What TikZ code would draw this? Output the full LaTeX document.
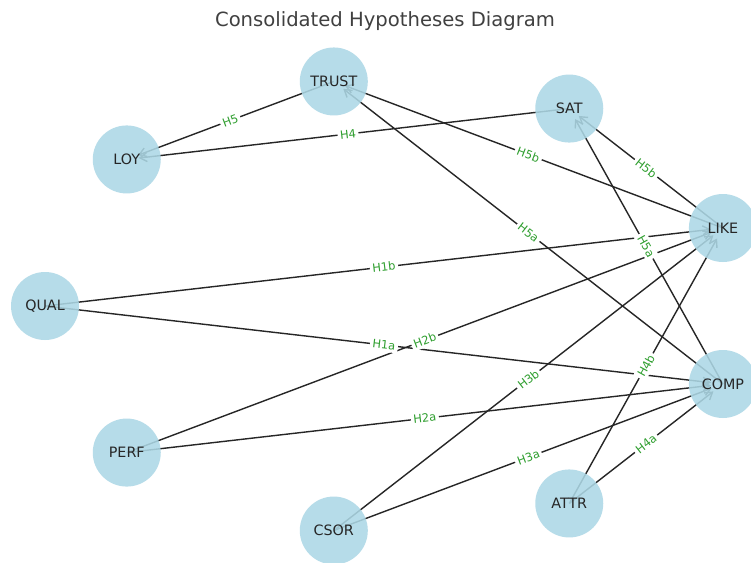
\documentclass[tikz,border=0pt]{standalone}
\usepackage{fontspec}
\setmainfont{DejaVu Sans}
\usetikzlibrary{arrows.meta}
\pgfdeclarelayer{bg}
\pgfdeclarelayer{edges}
\pgfdeclarelayer{labels}
\pgfsetlayers{bg,edges,labels,main}
\definecolor{nodeblue}{HTML}{ADD8E6}
\definecolor{labgreen}{HTML}{2E9E2E}
\definecolor{titlegray}{HTML}{404040}
\begin{document}
\begin{tikzpicture}[x=1pt,y=-1pt,
  vnode/.style={circle, fill=nodeblue, fill opacity=0.88, text opacity=1,
    minimum size=68pt, inner sep=0pt, text=black!85,
    font=\fontsize{14.3}{16}\selectfont},
  edge/.style={draw=black!85, line width=1.4pt,
    -{Straight Barb[length=7pt,width=9pt]}, shorten >=12pt},
  elab/.style={midway, sloped, fill=white, rounded corners=2pt, inner sep=2.5pt,
    text=labgreen, font=\fontsize{11.5}{13}\selectfont},
  titlestyle/.style={text=titlegray, font=\fontsize{19.6}{22}\selectfont}]
\begin{pgfonlayer}{bg}
\fill[white] (0,0) rectangle (751,562);
\end{pgfonlayer}
\useasboundingbox (0,0) rectangle (751,562);

\node[titlestyle] (title) at (385,21) {Consolidated Hypotheses Diagram};

\node[vnode] (LIKE)  at (722.9,228.0)  {LIKE};
\node[vnode] (SAT)   at (569.25,108.55) {SAT};
\node[vnode] (TRUST) at (333.8,81.46)  {TRUST};
\node[vnode] (LOY)   at (126.76,159.44) {LOY};
\node[vnode] (QUAL)  at (45,306)       {QUAL};
\node[vnode] (PERF)  at (126.76,452.56) {PERF};
\node[vnode] (CSOR)  at (333.8,530.54) {CSOR};
\node[vnode] (ATTR)  at (569.25,503.45) {ATTR};
\node[vnode] (COMP)  at (722.9,384.0)  {COMP};

\begin{pgfonlayer}{edges}
\draw[edge] (TRUST.center) -- (LOY.center);
\draw[edge] (SAT.center) -- (LOY.center);
\draw[edge] (LIKE.center) -- (TRUST.center);
\draw[edge] (COMP.center) -- (TRUST.center);
\draw[edge] (LIKE.center) -- (SAT.center);
\draw[edge] (COMP.center) -- (SAT.center);
\draw[edge] (QUAL.center) -- (LIKE.center);
\draw[edge] (QUAL.center) -- (COMP.center);
\draw[edge] (PERF.center) -- (LIKE.center);
\draw[edge] (PERF.center) -- (COMP.center);
\draw[edge] (CSOR.center) -- (LIKE.center);
\draw[edge] (CSOR.center) -- (COMP.center);
\draw[edge] (ATTR.center) -- (LIKE.center);
\draw[edge] (ATTR.center) -- (COMP.center);
\end{pgfonlayer}

\begin{pgfonlayer}{labels}
\path (TRUST.center) -- (LOY.center) node[elab] {H5};
\path (SAT.center) -- (LOY.center) node[elab] {H4};
\path (LIKE.center) -- (TRUST.center) node[elab] {H5b};
\path (COMP.center) -- (TRUST.center) node[elab] {H5a};
\path (LIKE.center) -- (SAT.center) node[elab] {H5b};
\path (COMP.center) -- (SAT.center) node[elab] {H5a};
\path (QUAL.center) -- (LIKE.center) node[elab] {H1b};
\path (QUAL.center) -- (COMP.center) node[elab] {H1a};
\path (PERF.center) -- (LIKE.center) node[elab] {H2b};
\path (PERF.center) -- (COMP.center) node[elab] {H2a};
\path (CSOR.center) -- (LIKE.center) node[elab] {H3b};
\path (CSOR.center) -- (COMP.center) node[elab] {H3a};
\path (ATTR.center) -- (LIKE.center) node[elab] {H4b};
\path (ATTR.center) -- (COMP.center) node[elab] {H4a};
\end{pgfonlayer}
\end{tikzpicture}
\end{document}
